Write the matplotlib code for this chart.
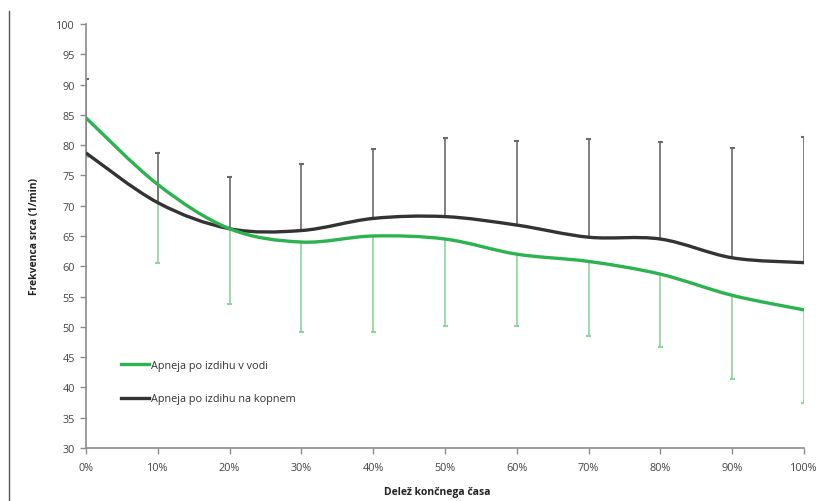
import matplotlib
matplotlib.use('Agg')
import matplotlib.pyplot as plt
from matplotlib.path import Path
from matplotlib.patches import PathPatch
from matplotlib.lines import Line2D
import numpy as np

plt.rcParams['font.family'] = ['Open Sans', 'DejaVu Sans']

# delež končnega časa (%)
delez = [0, 10, 20, 30, 40, 50, 60, 70, 80, 90, 100]
x_labels = ['0%', '10%', '20%', '30%', '40%', '50%', '60%', '70%', '80%', '90%', '100%']

# povprečja frekvence srca
voda = [84.5, 73.5, 66.2, 64.0, 65.0, 64.5, 62.0, 60.8, 58.7, 55.2, 52.8]
kopno = [78.7, 70.5, 66.2, 65.9, 67.9, 68.2, 66.8, 64.8, 64.5, 61.4, 60.6]

# standardni odkloni (voda navzdol, kopno navzgor)
sd_voda = [6.5, 12.9, 12.5, 14.8, 15.8, 14.3, 11.8, 12.3, 12.1, 13.8, 15.3]
sd_kopno = [12.2, 8.2, 8.5, 11.0, 11.4, 12.9, 13.9, 16.2, 16.0, 18.2, 20.7]

ZELENA = '#2bb34f'
ZELENA_SVETLA = '#8fd49c'
CRNA = '#333333'
SIVA = '#6a6a6a'


def gladka_pot(xs, ys):
    # Catmull-Rom -> Bezier, kot zglajena črta v Excelu
    xs = np.asarray(xs, float)
    ys = np.asarray(ys, float)
    verts = [(xs[0], ys[0])]
    codes = [Path.MOVETO]
    n = len(xs)
    for i in range(n - 1):
        x0, y0 = (xs[i - 1], ys[i - 1]) if i > 0 else (xs[i], ys[i])
        x1, y1 = xs[i], ys[i]
        x2, y2 = xs[i + 1], ys[i + 1]
        x3, y3 = (xs[i + 2], ys[i + 2]) if i + 2 < n else (x2, y2)
        c1 = (x1 + (x2 - x0) / 6, y1 + (y2 - y0) / 6)
        c2 = (x2 - (x3 - x1) / 6, y2 - (y3 - y1) / 6)
        verts += [c1, c2, (x2, y2)]
        codes += [Path.CURVE4] * 3
    return Path(verts, codes)


fig = plt.figure(figsize=(8.2, 5.02), dpi=100)
ax = fig.add_axes([0.1049, 0.1056, 0.8756, 0.8446])

# error bars
vode_spodaj = [v - s for v, s in zip(voda, sd_voda)]
kopno_zgoraj = [v + s for v, s in zip(kopno, sd_kopno)]
ax.vlines(delez, vode_spodaj, voda, color=ZELENA_SVETLA, lw=1.2, zorder=2)
ax.hlines(vode_spodaj, np.array(delez) - 0.35, np.array(delez) + 0.35, color=ZELENA_SVETLA, lw=1.5, zorder=2)
ax.vlines(delez, kopno, kopno_zgoraj, color=SIVA, lw=1.2, zorder=2)
ax.hlines(kopno_zgoraj, np.array(delez) - 0.35, np.array(delez) + 0.35, color=SIVA, lw=1.5, zorder=2)

ax.add_patch(PathPatch(gladka_pot(delez, kopno), fill=False, edgecolor=CRNA, lw=2.4, zorder=3))
ax.add_patch(PathPatch(gladka_pot(delez, voda), fill=False, edgecolor=ZELENA, lw=2.4, zorder=4))

ax.set_xlim(0, 100)
ax.set_ylim(30, 100)
ax.set_xticks(delez)
ax.set_xticklabels(x_labels)
ax.set_yticks(range(30, 101, 5))

for s in ['top', 'right']:
    ax.spines[s].set_visible(False)
for s in ['left', 'bottom']:
    ax.spines[s].set_color('#8c8c8c')
    ax.spines[s].set_linewidth(1.2)
ax.tick_params(axis='both', colors='#8c8c8c', labelcolor='#444444', labelsize=7.8, length=4, width=1)
ax.tick_params(axis='x', pad=6)
ax.tick_params(axis='y', pad=4)

ax.set_ylabel('Frekvenca srca (1/min)', fontsize=7.5, fontweight='bold', color='#222222', labelpad=12)
fig.text(437 / 820, 1 - 493 / 502, 'Delež končnega časa', fontsize=7.5, fontweight='bold',
         color='#222222', ha='center', va='center')

legenda = [Line2D([], [], color=ZELENA, lw=2.4), Line2D([], [], color=CRNA, lw=2.4)]
ax.legend(legenda, ['Apneja po izdihu v vodi', 'Apneja po izdihu na kopnem'],
          loc='lower left', bbox_to_anchor=(0.035, 0.08), frameon=False,
          fontsize=7.8, handlelength=2.6, handletextpad=0.2, labelspacing=2.1,
          labelcolor='#333333')

# rob strani na levi
fig.add_artist(Line2D([9 / 820, 9 / 820], [0, 1 - 12 / 502], color='#555555', lw=1.0))

fig.savefig('out.png', dpi=100)
